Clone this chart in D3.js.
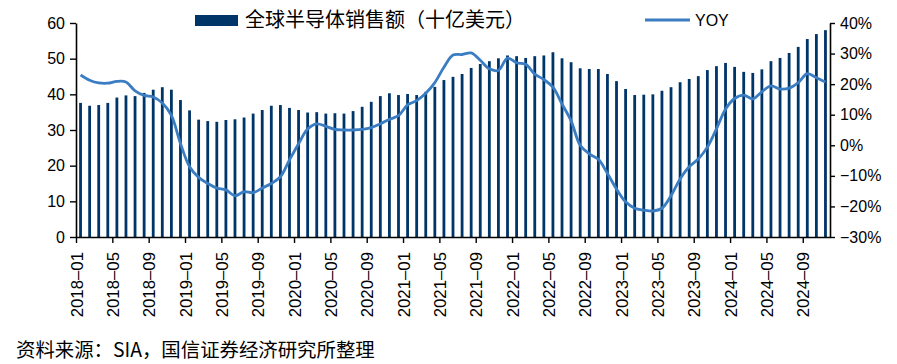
<!DOCTYPE html>
<html><head><meta charset="utf-8">
<script src="https://cdn.jsdelivr.net/npm/d3@7"></script>
<style>
body{margin:0;background:#fff}
svg{display:block}
.lat{font-family:"Liberation Sans",Arial,sans-serif}
.cjk{font-family:"Noto Sans CJK SC","Noto Sans",sans-serif}
</style>
</head><body>
<svg id="c" width="897" height="364"></svg>
<script>
// ---- data ----
const months = [];
for (let y = 2018; y <= 2024; y++) for (let m = 1; m <= 12; m++) {
  if (y === 2024 && m === 12) break;
  months.push(y + "-" + String(m).padStart(2, "0"));
}
// global semiconductor sales, billion USD
const sales = [
  37.6, 36.8, 37.0, 37.6, 39.1, 39.7, 39.5, 40.4, 41.3, 42.0, 41.3, 38.4,
  35.5, 32.9, 32.5, 32.3, 32.8, 33.0, 33.5, 34.6, 35.6, 36.8, 37.0, 36.2,
  35.6, 34.9, 35.0, 34.6, 34.7, 34.6, 35.3, 36.5, 37.9, 39.5, 40.3, 39.8,
  40.1, 39.8, 40.7, 42.1, 44.0, 44.9, 45.7, 47.4, 48.5, 49.3, 50.1, 50.9,
  50.7, 50.2, 50.7, 50.9, 51.8, 50.1, 49.0, 47.3, 47.1, 47.1, 45.7, 43.7,
  41.5, 39.8, 39.9, 40.0, 41.0, 42.0, 43.4, 44.3, 45.1, 46.8, 47.9, 48.8,
  47.7, 46.3, 46.0, 47.0, 49.3, 50.2, 51.6, 53.3, 55.5, 56.9, 58.0
];
// year-over-year growth, %
const yoy = [
  23.0, 21.3, 20.4, 20.3, 20.9, 20.7, 17.8, 16.3, 15.8, 13.8, 9.8, 0.6,
  -7.0, -10.5, -12.5, -14.0, -14.6, -16.5, -15.2, -15.5, -14.0, -12.5, -10.3, -4.8,
  0.5, 5.3, 7.0, 6.2, 5.2, 5.0, 5.0, 5.2, 5.8, 7.0, 8.5, 9.7,
  13.2, 14.6, 17.0, 20.5, 25.5, 29.5, 29.7, 30.2, 27.8, 25.0, 24.5, 28.5,
  27.0, 26.5, 23.3, 21.5, 19.0, 13.5, 8.0, 0.0, -2.8, -4.6, -9.2, -14.3,
  -18.5, -20.6, -21.2, -21.5, -20.6, -16.5, -11.0, -7.0, -4.5, -0.6, 5.4, 11.8,
  15.3, 16.4, 15.2, 17.5, 19.4, 18.4, 18.7, 20.5, 23.4, 22.1, 20.7
];
const leftTicks = [0, 10, 20, 30, 40, 50, 60];
const rightTicks = [-30, -20, -10, 0, 10, 20, 30, 40];
const xTickMonths = ["2018-01","2018-05","2018-09","2019-01","2019-05","2019-09","2020-01","2020-05","2020-09","2021-01","2021-05","2021-09","2022-01","2022-05","2022-09","2023-01","2023-05","2023-09","2024-01","2024-05","2024-09"];
const barLabel = "全球半导体销售额（十亿美元）";
const lineLabel = "YOY";
const source = "资料来源：SIA，国信证券经济研究所整理";

// ---- chart ----
const barColor = "#003567", lineColor = "#3b7dc2";
const L = 76, R = 830, T = 23, B = 237;
const svg = d3.select("#c");

const x = d3.scaleLinear().domain([0, months.length]).range([L, R]);
const yL = d3.scaleLinear().domain([0, 60]).range([B, T]);
const yR = d3.scaleLinear().domain([-30, 40]).range([B, T]);
const barW = 2.8;

svg.append("g").selectAll("rect").data(sales).join("rect")
  .attr("x", (d, i) => x(i + 0.5) - barW / 2)
  .attr("y", d => yL(d))
  .attr("width", barW)
  .attr("height", d => yL(0) - yL(d))
  .attr("fill", barColor);

const line = d3.line()
  .x((d, i) => x(i + 0.5))
  .y(d => yR(d))
  .curve(d3.curveCatmullRom.alpha(0.5));
svg.append("path").datum(yoy)
  .attr("d", line).attr("fill", "none")
  .attr("stroke", lineColor).attr("stroke-width", 2.8)
  .attr("stroke-linejoin", "round");

// axes
function styleAxis(g, fs) {
  g.select(".domain").attr("stroke", "#000").attr("stroke-width", 1.6);
  g.selectAll(".tick line").attr("stroke", "#000").attr("stroke-width", 1.4);
  g.selectAll("text").attr("fill", "#000").attr("class", "lat").style("font-size", fs);
}
const gl = svg.append("g").attr("transform", `translate(${L},0)`)
  .call(d3.axisLeft(yL).tickValues(leftTicks).tickSize(6).tickSizeOuter(0).tickPadding(5));
styleAxis(gl, "16px");

const gr = svg.append("g").attr("transform", `translate(${R},0)`)
  .call(d3.axisRight(yR).tickValues(rightTicks).tickSize(5).tickSizeOuter(0).tickPadding(5)
    .tickFormat(d => (d < 0 ? "\u2212" + (-d) : d) + "%"));
styleAxis(gr, "16px");

const gb = svg.append("g").attr("transform", `translate(0,${B})`)
  .call(d3.axisBottom(x).tickValues(xTickMonths.map(m => months.indexOf(m)))
    .tickSize(6).tickSizeOuter(0)
    .tickFormat(i => months[i].replace("-", "\u2013")));
styleAxis(gb, "16.8px");
gb.selectAll(".tick text")
  .attr("transform", "rotate(-90)")
  .attr("text-anchor", "end")
  .attr("x", -15).attr("y", 0).attr("dy", "0.36em");

// legend
svg.append("rect").attr("x", 195).attr("y", 15).attr("width", 43).attr("height", 11).attr("fill", barColor);
svg.append("text").attr("class", "cjk").attr("x", 245).attr("y", 27)
  .style("font-size", "20px").attr("fill", "#000").text(barLabel);
svg.append("line").attr("x1", 645).attr("x2", 690).attr("y1", 20).attr("y2", 20)
  .attr("stroke", lineColor).attr("stroke-width", 2.8);
svg.append("text").attr("class", "lat").attr("x", 695).attr("y", 26)
  .style("font-size", "16px").attr("fill", "#000").text(lineLabel);

// source
svg.append("text").attr("class", "cjk").attr("x", 16).attr("y", 357)
  .style("font-size", "19.4px").attr("fill", "#000").text(source);
</script>
</body></html>
